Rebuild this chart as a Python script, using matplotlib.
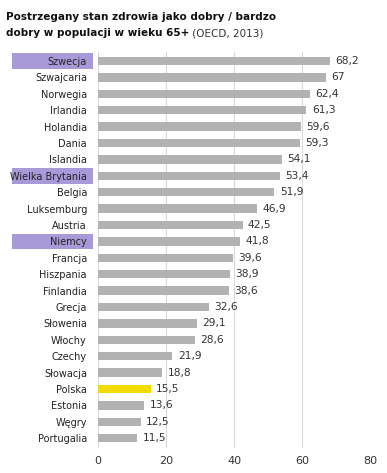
import matplotlib
matplotlib.use("Agg")
import matplotlib.pyplot as plt
from matplotlib.patches import Rectangle
import matplotlib.transforms as mtransforms

countries = ["Szwecja", "Szwajcaria", "Norwegia", "Irlandia", "Holandia", "Dania",
             "Islandia", "Wielka Brytania", "Belgia", "Luksemburg", "Austria", "Niemcy",
             "Francja", "Hiszpania", "Finlandia", "Grecja", "Słowenia", "Włochy",
             "Czechy", "Słowacja", "Polska", "Estonia", "Węgry", "Portugalia"]
values = [68.2, 67, 62.4, 61.3, 59.6, 59.3, 54.1, 53.4, 51.9, 46.9, 42.5, 41.8,
          39.6, 38.9, 38.6, 32.6, 29.1, 28.6, 21.9, 18.8, 15.5, 13.6, 12.5, 11.5]
highlighted = ["Szwecja", "Wielka Brytania", "Niemcy"]
focus = "Polska"
xticks = [0, 20, 40, 60, 80]

W, H = 387, 473
fig = plt.figure(figsize=(W / 100, H / 100), dpi=100)
fig.patch.set_facecolor("white")
ax = fig.add_axes([98 / W, 1 - 448 / H, (370 - 98) / W, (448 - 52) / H])

n = len(countries)
ys = list(range(n))
colors = ["#f2dc00" if c == focus else "#b2b2b2" for c in countries]
ax.barh(ys, values, height=0.52, color=colors, zorder=3)

ax.set_xlim(0, 80)
ax.set_ylim(n - 1 + 0.6, -0.55)
ax.set_xticks(xticks)
ax.set_xticklabels([str(t) for t in xticks], fontsize=8, color="#333333")
ax.set_yticks(ys)
ax.set_yticklabels(countries, fontsize=7, color="#222222")
ax.tick_params(axis="both", length=0)
ax.tick_params(axis="y", pad=8)
ax.tick_params(axis="x", pad=6)
for s in ax.spines.values():
    s.set_visible(False)
ax.grid(axis="x", color="#d9d9d9", linewidth=0.8, zorder=0)
ax.set_axisbelow(True)

for y, v in zip(ys, values):
    lab = ("%g" % v).replace(".", ",")
    ax.text(v + 1.6, y, lab, va="center", ha="left", fontsize=7.7, color="#333333")

trans = mtransforms.blended_transform_factory(fig.transFigure, ax.transData)
for c in highlighted:
    i = countries.index(c)
    r = Rectangle((12 / W, i - 0.48), (93 - 12) / W, 0.96, transform=trans,
                  facecolor="#a89ad8", edgecolor="none", zorder=0, clip_on=False)
    fig.add_artist(r)

t1 = fig.text(6 / W, 1 - 20 / H, "Postrzegany stan zdrowia jako dobry / bardzo",
              fontsize=7.5, fontweight="bold", color="#111111", va="baseline")
t2 = fig.text(6 / W, 1 - 36 / H, "dobry w populacji w wieku 65+",
              fontsize=7.5, fontweight="bold", color="#111111", va="baseline")
fig.canvas.draw()
ann = fig.text(0, 0, " (OECD, 2013)", fontsize=7.5, color="#333333", va="baseline")
bb = t2.get_window_extent()
ann.set_position((bb.x1 / fig.bbox.width, 1 - 36 / H))

fig.savefig("out.png", dpi=100)
